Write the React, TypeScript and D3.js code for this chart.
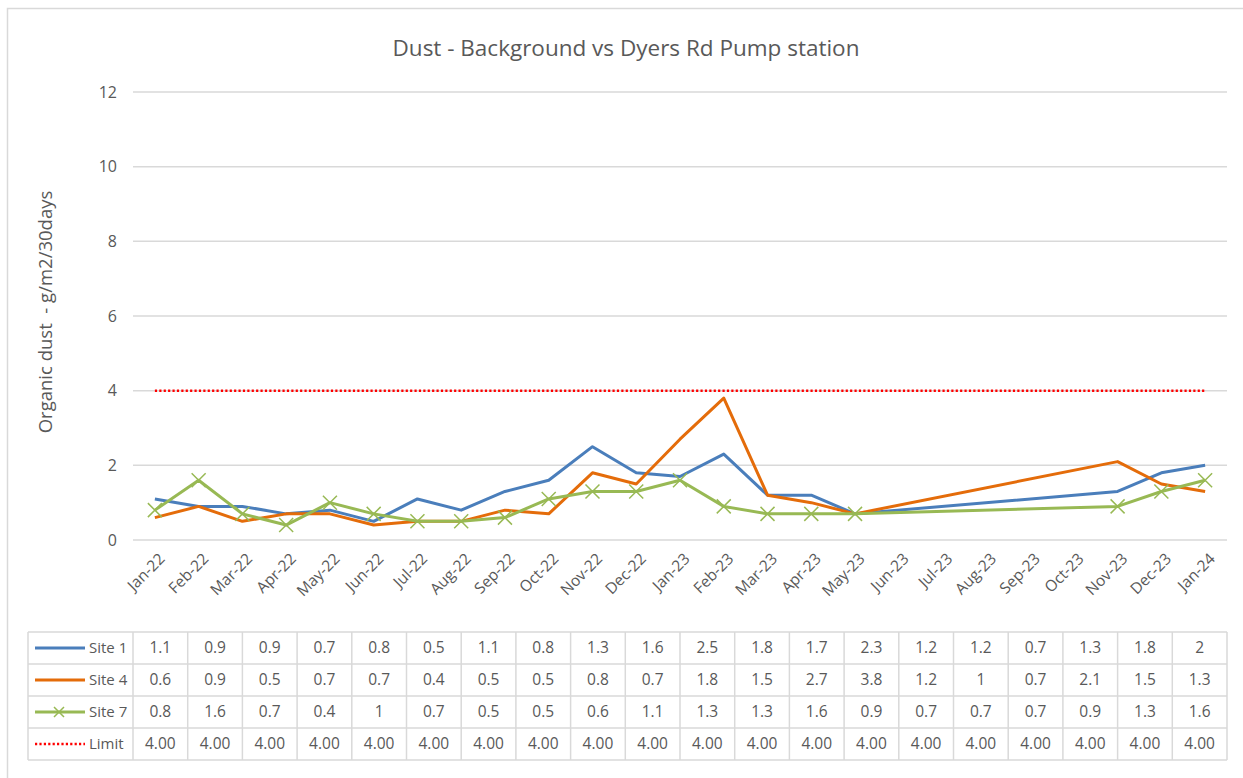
import React, { useEffect, useRef } from "react";
import * as d3 from "d3";

// axis months (every month shown on x axis)
const axisMonths = [
  "Jan-22", "Feb-22", "Mar-22", "Apr-22", "May-22", "Jun-22", "Jul-22", "Aug-22",
  "Sep-22", "Oct-22", "Nov-22", "Dec-22", "Jan-23", "Feb-23", "Mar-23", "Apr-23",
  "May-23", "Jun-23", "Jul-23", "Aug-23", "Sep-23", "Oct-23", "Nov-23", "Dec-23", "Jan-24",
];

// months that actually have samples (one table column each)
const sampleMonths = [
  "Jan-22", "Feb-22", "Mar-22", "Apr-22", "May-22", "Jun-22", "Jul-22", "Aug-22",
  "Sep-22", "Oct-22", "Nov-22", "Dec-22", "Jan-23", "Feb-23", "Mar-23", "Apr-23",
  "May-23", "Nov-23", "Dec-23", "Jan-24",
];

const site1 = [1.1, 0.9, 0.9, 0.7, 0.8, 0.5, 1.1, 0.8, 1.3, 1.6, 2.5, 1.8, 1.7, 2.3, 1.2, 1.2, 0.7, 1.3, 1.8, 2];
const site4 = [0.6, 0.9, 0.5, 0.7, 0.7, 0.4, 0.5, 0.5, 0.8, 0.7, 1.8, 1.5, 2.7, 3.8, 1.2, 1, 0.7, 2.1, 1.5, 1.3];
const site7 = [0.8, 1.6, 0.7, 0.4, 1, 0.7, 0.5, 0.5, 0.6, 1.1, 1.3, 1.3, 1.6, 0.9, 0.7, 0.7, 0.7, 0.9, 1.3, 1.6];
const limit = [4, 4, 4, 4, 4, 4, 4, 4, 4, 4, 4, 4, 4, 4, 4, 4, 4, 4, 4, 4];

const yTicks = [0, 2, 4, 6, 8, 10, 12];

const series = [
  { name: "Site 1", values: site1, color: "#4a7ebb", fmt: (v: number) => String(v) },
  { name: "Site 4", values: site4, color: "#e46c0a", fmt: (v: number) => String(v) },
  { name: "Site 7", values: site7, color: "#98b954", fmt: (v: number) => String(v), marker: true },
  { name: "Limit", values: limit, color: "#ff0000", fmt: (v: number) => v.toFixed(2), dotted: true },
];

const FONT = "'Open Sans', 'Noto Sans', sans-serif";
const TEXT = "#595959";
const GRID = "#d9d9d9";

function App() {
  const ref = useRef<SVGSVGElement>(null);

  useEffect(() => {
    const width = 1243;
    const height = 778;
    const left = 133, right = 1227, top = 92, bottom = 540;

    const svg = d3.select(ref.current);
    svg.selectAll("*").remove();
    svg.attr("width", width).attr("height", height).style("font-family", FONT);

    // frame
    svg.append("rect").attr("x", 7.5).attr("y", 8.5).attr("width", width).attr("height", height)
      .attr("fill", "white").attr("stroke", GRID).attr("stroke-width", 1.5);

    const xScale = d3.scaleBand().domain(axisMonths).range([left, right]);
    const cx = (m: string) => (xScale(m) as number) + xScale.bandwidth() / 2;
    const yScale = d3.scaleLinear().domain([0, 12]).range([bottom, top]);

    // title
    svg.append("text").attr("x", 626).attr("y", 56).attr("text-anchor", "middle")
      .attr("font-size", 22.5).attr("fill", TEXT)
      .text("Dust - Background vs Dyers Rd Pump station");

    // gridlines + y labels
    const g = svg.append("g");
    g.selectAll(".grid").data(yTicks).join("line")
      .attr("x1", left).attr("x2", right)
      .attr("y1", d => yScale(d)).attr("y2", d => yScale(d))
      .attr("stroke", GRID).attr("stroke-width", 1.5);
    g.selectAll(".ylab").data(yTicks).join("text")
      .attr("x", 117).attr("y", d => yScale(d)).attr("dy", "0.35em")
      .attr("text-anchor", "end").attr("font-size", 16).attr("fill", TEXT)
      .text(d => d);

    // y axis title
    svg.append("text")
      .attr("transform", "translate(52, 312) rotate(-90)")
      .attr("text-anchor", "middle").attr("font-size", 18.5).attr("fill", TEXT)
      .style("white-space", "pre")
      .text("Organic dust  - g/m2/30days");

    // x labels
    svg.selectAll(".xlab").data(axisMonths).join("text")
      .attr("transform", d => `translate(${cx(d) + 7}, 556) rotate(-45)`)
      .attr("text-anchor", "end").attr("dy", "0.35em")
      .attr("font-size", 15.5).attr("fill", TEXT)
      .text(d => d);

    // lines
    const line = d3.line<[number, number]>().x(d => d[0]).y(d => d[1]);
    series.forEach(s => {
      const pts: [number, number][] = sampleMonths.map((m, i) => [cx(m), yScale(s.values[i])]);
      const path = svg.append("path").attr("d", line(pts)).attr("fill", "none")
        .attr("stroke", s.color).attr("stroke-linejoin", "round");
      if (s.dotted) {
        path.attr("stroke-width", 2.5).attr("stroke-dasharray", "2.2 2.2");
      } else {
        path.attr("stroke-width", 3);
      }
      if (s.marker) {
        svg.selectAll(null).data(pts).join("path")
          .attr("d", d => `M${d[0] - 7},${d[1] - 7}L${d[0] + 7},${d[1] + 7}M${d[0] - 7},${d[1] + 7}L${d[0] + 7},${d[1] - 7}`)
          .attr("stroke", s.color).attr("stroke-width", 1.5).attr("fill", "none");
      }
    });

    // data table
    const tTop = 632, rowH = 32, labelLeft = 28;
    const colScale = d3.scaleBand().domain(sampleMonths).range([left, right]);
    const table = svg.append("g");
    const tBottom = tTop + rowH * series.length;

    // horizontal rules
    d3.range(series.length + 1).forEach(i => {
      table.append("line").attr("x1", labelLeft).attr("x2", right)
        .attr("y1", tTop + i * rowH).attr("y2", tTop + i * rowH)
        .attr("stroke", GRID).attr("stroke-width", 1.5);
    });
    // vertical rules
    [labelLeft, ...sampleMonths.map(m => colScale(m) as number), right].forEach(x => {
      table.append("line").attr("x1", x).attr("x2", x).attr("y1", tTop).attr("y2", tBottom)
        .attr("stroke", GRID).attr("stroke-width", 1.5);
    });

    series.forEach((s, r) => {
      const yMid = tTop + r * rowH + rowH / 2;
      // legend key
      const key = table.append("line").attr("x1", 35).attr("x2", 85)
        .attr("y1", yMid).attr("y2", yMid).attr("stroke", s.color);
      if (s.dotted) key.attr("stroke-width", 2.5).attr("stroke-dasharray", "2.2 2.2");
      else key.attr("stroke-width", 3);
      if (s.marker) {
        table.append("path")
          .attr("d", `M54,${yMid - 5}L64,${yMid + 5}M54,${yMid + 5}L64,${yMid - 5}`)
          .attr("stroke", s.color).attr("stroke-width", 1.5);
      }
      table.append("text").attr("x", 89).attr("y", yMid).attr("dy", "0.35em")
        .attr("font-size", 15).attr("fill", TEXT).text(s.name);

      table.selectAll(null).data(s.values).join("text")
        .attr("x", (d, i) => (colScale(sampleMonths[i]) as number) + colScale.bandwidth() / 2)
        .attr("y", yMid).attr("dy", "0.35em").attr("text-anchor", "middle")
        .attr("font-size", 15.5).attr("fill", TEXT)
        .text(d => s.fmt(d));
    });
  }, []);

  return <svg ref={ref} style={{ position: "absolute", left: 0, top: 0 }}></svg>;
}

export default App;
